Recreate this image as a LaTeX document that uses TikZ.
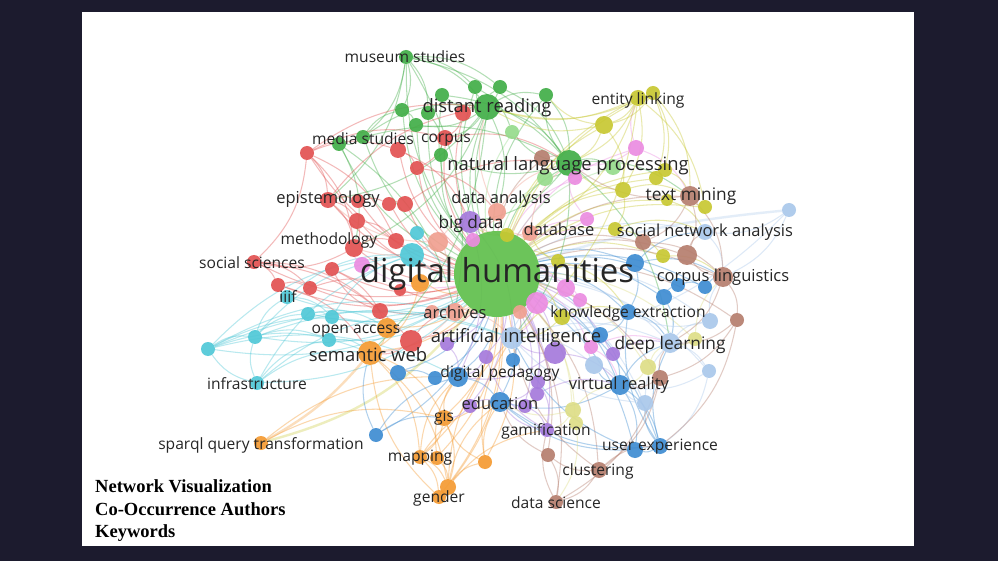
\documentclass[tikz,border=0pt]{standalone}
\usepackage{fontspec}
\setmainfont{Open Sans}
\newfontfamily\capfont{Liberation Serif}

\definecolor{navy}{RGB}{28,27,46}
\definecolor{vHub}{RGB}{96,192,76}
\definecolor{vGreen}{RGB}{66,174,72}
\definecolor{vLGreen}{RGB}{150,220,140}
\definecolor{vRed}{RGB}{226,82,82}
\definecolor{vCyan}{RGB}{80,200,215}
\definecolor{vOrange}{RGB}{245,155,50}
\definecolor{vBlue}{RGB}{62,140,210}
\definecolor{vLBlue}{RGB}{170,200,235}
\definecolor{vPurple}{RGB}{165,122,220}
\definecolor{vPink}{RGB}{235,140,225}
\definecolor{vYellow}{RGB}{200,200,50}
\definecolor{vLYellow}{RGB}{222,222,135}
\definecolor{vBrown}{RGB}{182,126,110}
\definecolor{vSalmon}{RGB}{240,160,145}

\pgfdeclarelayer{panel}
\pgfdeclarelayer{edges}
\pgfdeclarelayer{labels}
\pgfsetlayers{panel,edges,main,labels}

\begin{document}
\begin{tikzpicture}[x=1pt, y=-1pt,
  dot/.style={circle, fill=#1, draw=none, inner sep=0pt, minimum size=14pt, fill opacity=0.92},
  lnk/.style={draw=#1, draw opacity=0.4, line width=1.05pt, bend left=20},
  thk/.style={lnk=#1, line width=2.4pt, draw opacity=0.32},
  lbl/.style={inner sep=0pt, text=black!85},
  lblH/.style={lbl, font=\fontsize{33}{36}\selectfont},
  lblL/.style={lbl, font=\fontsize{18.4}{20}\selectfont},
  lblM/.style={lbl, font=\fontsize{17.3}{19}\selectfont},
  lblS/.style={lbl, font=\fontsize{16.5}{18}\selectfont},
  lblT/.style={lbl, font=\fontsize{15.6}{17}\selectfont},
  legendtxt/.style={inner sep=0pt, align=left, text=black,
                    font=\capfont\bfseries\fontsize{18.5}{22.5}\selectfont}
]
\useasboundingbox (0,0) rectangle (998,561);
\begin{pgfonlayer}{panel}
\fill[navy] (0,0) rectangle (998,561);
\fill[white] (82,12) rectangle (914,546);
\end{pgfonlayer}

% labelled keywords
\node[dot=vHub, minimum size=86pt]    (dh)   at (497,274) {};
\node[dot=vGreen, minimum size=26pt]  (dr)   at (487,107) {};
\node[dot=vGreen, minimum size=26pt]  (nlp)  at (569,163) {};
\node[dot=vGreen]                     (mus)  at (406,57)  {};
\node[dot=vYellow, minimum size=16pt] (el)   at (638,98)  {};
\node[dot=vYellow]                    (el2)  at (653,93)  {};
\node[dot=vGreen]                     (med)  at (363,137) {};
\node[dot=vRed, minimum size=16pt]    (cor)  at (445,138) {};
\node[dot=vRed, minimum size=16pt]    (epi)  at (328,200) {};
\node[dot=vSalmon, minimum size=18pt] (da)   at (497,212) {};
\node[dot=vPurple, minimum size=22pt] (bd)   at (470,222) {};
\node[dot=vSalmon, minimum size=16pt] (db)   at (530,233) {};
\node[dot=vBrown, minimum size=20pt]  (tm)   at (690,196) {};
\node[dot=vLBlue, minimum size=16pt]  (sna)  at (705,232) {};
\node[dot=vRed, minimum size=18pt]    (meth) at (354,248) {};
\node[dot=vRed]                       (ss)   at (254,262) {};
\node[dot=vBrown, minimum size=20pt]  (cl)   at (723,277) {};
\node[dot=vCyan]                      (iiif) at (287,297) {};
\node[dot=vSalmon, minimum size=18pt] (arc)  at (455,312) {};
\node[dot=vBlue, minimum size=16pt]   (ke)   at (628,312) {};
\node[dot=vOrange, minimum size=20pt] (oa)   at (387,328) {};
\node[dot=vLBlue, minimum size=22pt]  (ai)   at (512,338) {};
\node[dot=vOrange, minimum size=24pt] (sw)   at (370,353) {};
\node[dot=vLBlue, minimum size=20pt]  (dl)   at (670,343) {};
\node[dot=vCyan]                      (inf)  at (257,383) {};
\node[dot=vBlue, minimum size=20pt]   (dp)   at (458,377) {};
\node[dot=vBlue, minimum size=20pt]   (vr)   at (620,385) {};
\node[dot=vBlue, minimum size=20pt]   (edu)  at (500,402) {};
\node[dot=vOrange, minimum size=16pt] (gis)  at (444,418) {};
\node[dot=vPurple]                    (gam)  at (547,430) {};
\node[dot=vOrange]                    (spq)  at (261,443) {};
\node[dot=vBlue, minimum size=16pt]   (ux)   at (660,446) {};
\node[dot=vOrange]                    (map)  at (420,457) {};
\node[dot=vBrown, minimum size=16pt]  (clu)  at (599,470) {};
\node[dot=vOrange, minimum size=16pt] (gen)  at (448,487) {};
\node[dot=vBrown]                     (ds)   at (556,502) {};

% unlabelled keywords
\foreach \x/\y/\w [count=\i] in {475/87/14, 500/87/14, 546/95/14, 442/95/14, 402/110/14,
    428/113/14, 416/125/14, 441/155/14, 339/144/14}
  \node[dot=vGreen, minimum size=\w pt] (g\i) at (\x,\y) {};
\foreach \x/\y/\w [count=\i] in {512/132/14, 613/167/16, 545/178/16}
  \node[dot=vLGreen, minimum size=\w pt] (lg\i) at (\x,\y) {};
\foreach \x/\y/\w [count=\i] in {307/153/14, 398/150/16, 417/168/14, 463/113/16, 358/201/14,
    389/204/14, 405/204/16, 357/221/16, 396/241/16, 332/269/14, 278/285/14, 310/288/14,
    380/311/16, 411/341/22, 400/290/12}
  \node[dot=vRed, minimum size=\w pt] (r\i) at (\x,\y) {};
\foreach \x/\y/\w [count=\i] in {412/255/24, 417/233/14, 308/314/14, 332/317/14, 329/340/14,
    255/337/14, 208/349/14}
  \node[dot=vCyan, minimum size=\w pt] (c\i) at (\x,\y) {};
\foreach \x/\y/\w [count=\i] in {420/283/18, 437/458/14, 439/497/14, 485/462/14}
  \node[dot=vOrange, minimum size=\w pt] (o\i) at (\x,\y) {};
\foreach \x/\y/\w [count=\i] in {398/373/16, 435/378/14, 376/435/14, 635/263/18, 664/297/16,
    678/285/14, 705/287/14, 600/335/16, 513/360/14, 635/450/16}
  \node[dot=vBlue, minimum size=\w pt] (b\i) at (\x,\y) {};
\foreach \x/\y/\w [count=\i] in {789/210/14, 710/321/16, 709/371/14, 645/403/16, 594/365/18}
  \node[dot=vLBlue, minimum size=\w pt] (lb\i) at (\x,\y) {};
\foreach \x/\y/\w [count=\i] in {555/353/22, 486/357/14, 538/382/14, 447/344/14, 613/354/14,
    525/406/14, 470/406/14, 537/394/14}
  \node[dot=vPurple, minimum size=\w pt] (p\i) at (\x,\y) {};
\foreach \x/\y/\w [count=\i] in {636/148/16, 575/178/14, 587/219/14, 566/288/18, 580/300/14,
    537/303/22, 591/347/14, 473/240/14, 362/265/16}
  \node[dot=vPink, minimum size=\w pt] (pk\i) at (\x,\y) {};
\foreach \x/\y/\w [count=\i] in {604/125/18, 656/178/14, 665/170/14, 623/190/16, 705/207/14,
    667/200/12, 615/229/14, 663/256/14, 558/261/14, 507/235/14, 562/317/16}
  \node[dot=vYellow, minimum size=\w pt] (y\i) at (\x,\y) {};
\foreach \x/\y/\w [count=\i] in {648/367/16, 695/339/14, 573/410/16, 576/423/14}
  \node[dot=vLYellow, minimum size=\w pt] (ly\i) at (\x,\y) {};
\foreach \x/\y/\w [count=\i] in {643/242/16, 687/255/20, 737/320/14, 660/378/16, 548/455/14,
    542/158/16}
  \node[dot=vBrown, minimum size=\w pt] (br\i) at (\x,\y) {};
\foreach \x/\y/\w [count=\i] in {438/242/20, 520/312/14, 432/312/14}
  \node[dot=vSalmon, minimum size=\w pt] (s\i) at (\x,\y) {};

% co-occurrence links
\begin{pgfonlayer}{edges}
\foreach \n in {dr,nlp,mus,med,g1,g2,g3,g4,g5,g6,g7,g8,g9} \draw[lnk=vGreen] (dh) to (\n);
\foreach \n in {lg1,lg2,lg3} \draw[lnk=vLGreen] (dh) to (\n);
\foreach \n in {cor,epi,meth,ss,r1,r2,r3,r4,r5,r6,r7,r8,r9,r10,r11,r12,r13,r14,r15}
  \draw[lnk=vRed] (dh) to (\n);
\foreach \n in {iiif,inf,c1,c2,c3,c4,c5,c6,c7} \draw[lnk=vCyan] (dh) to (\n);
\foreach \n in {oa,sw,gis,map,gen,o1,o2,o3,o4} \draw[lnk=vOrange] (dh) to (\n);
\foreach \n in {ke,dp,vr,edu,ux,b1,b2,b3,b4,b5,b6,b7,b8,b9,b10} \draw[lnk=vBlue] (dh) to (\n);
\foreach \n in {sna,ai,dl,lb2,lb3,lb4,lb5} \draw[lnk=vLBlue] (dh) to (\n);
\foreach \n in {bd,gam,p1,p2,p3,p4,p5,p6,p7,p8} \draw[lnk=vPurple] (dh) to (\n);
\foreach \n in {pk1,pk2,pk3,pk4,pk5,pk6,pk7,pk8,pk9} \draw[lnk=vPink] (dh) to (\n);
\foreach \n in {el,el2,y1,y2,y3,y4,y5,y6,y7,y8,y9,y10,y11} \draw[lnk=vYellow] (dh) to (\n);
\foreach \n in {ly1,ly2,ly3,ly4} \draw[lnk=vLYellow] (dh) to (\n);
\foreach \n in {tm,cl,clu,ds,br1,br2,br3,br4,br5,br6} \draw[lnk=vBrown] (dh) to (\n);
\foreach \n in {da,db,arc,s1,s2,s3} \draw[lnk=vSalmon] (dh) to (\n);
\draw[thk=vLBlue] (lb1) to[bend right=6] (dh);
\draw[thk=vYellow] (spq) to[bend right=18] (dh);
\draw[thk=vOrange] (spq) to[bend right=10] (sw);

\foreach \a/\b in {mus/dr, mus/g1, mus/g5, mus/nlp, mus/g6, mus/med, mus/g2, dr/nlp, dr/g1,
    dr/g2, dr/g3, dr/g4, dr/g7, dr/cor, dr/da, nlp/g3, nlp/g8, nlp/lg1, nlp/lg2, nlp/lg3,
    nlp/bd, med/g9, med/g5, med/dr, med/nlp, g4/nlp, g5/g7, dr/epi, dr/meth, nlp/ai, nlp/dl,
    nlp/tm, g9/arc, dr/sw, g3/nlp, g6/g8, g9/meth, g1/lg1, mus/arc, mus/epi, g2/nlp}
  \draw[lnk=vGreen] (\a) to (\b);
\foreach \a/\b in {r1/epi, r1/meth, r1/ss, r1/r2, epi/r5, epi/meth, meth/ss, ss/r11, ss/r12,
    r11/r12, meth/r9, r2/r3, cor/r3, r4/cor, r5/r6, r6/r7, r8/r9, r10/oa, r14/sw, r13/r10,
    epi/dr, cor/nlp, r2/bd, ss/r13, r1/dr, r4/dr, r7/nlp, r3/da, r12/r15, r14/arc, r8/meth,
    r11/sw, r1/cor, r1/r9, ss/r14, epi/r8}
  \draw[lnk=vRed] (\a) to (\b);
\foreach \a/\b in {inf/c7, inf/c6, c7/c6, c7/oa, c7/sw, c6/iiif, c6/c3, c6/c5, iiif/c4,
    inf/sw, inf/c5, c3/c4, c4/c1, c5/sw, c7/c1, inf/arc, c6/ai, c7/dp, c3/oa, c6/c1, c5/c4,
    iiif/c1, c7/ai, c7/arc, inf/c1}
  \draw[lnk=vCyan] (\a) to (\b);
\foreach \a/\b in {spq/gis, gis/map, gis/gen, map/gen, map/o3, gen/o4, o2/gen, o4/gis,
    sw/gis, sw/map, sw/gen, oa/sw, gen/edu, o4/edu, map/dp, o1/sw, o3/sw, o2/dp, gen/ai,
    map/edu, o4/ai, gis/dp, spq/dp, gen/gam}
  \draw[lnk=vOrange] (\a) to (\b);
\foreach \a/\b in {vr/ux, vr/b10, ux/b10, ux/lb4, vr/dl, b4/ke, b5/b6, b6/b7, b4/cl, ke/dl,
    b8/vr, dp/edu, b1/b2, b2/dp, b3/gis, b3/dp, b9/ai, vr/edu, ux/edu, b10/edu, vr/lb5, ke/b8,
    b4/sna, b7/cl, b5/dl, b10/ai, b3/sw, ux/dl, ux/ke}
  \draw[lnk=vBlue] (\a) to (\b);
\foreach \a/\b in {lb1/sna, lb1/cl, sna/cl, dl/lb2, dl/lb3, lb2/cl, lb3/ux, lb4/vr, lb4/dl,
    lb5/vr, ai/lb5, ai/dl, lb3/vr, lb1/ai, lb2/ke, lb4/ai}
  \draw[lnk=vLBlue] (\a) to (\b);
\foreach \a/\b in {p1/ai, p1/dp, p2/dp, p3/edu, p3/gam, p4/dp, p5/dl, p6/gam, p7/edu, p8/vr,
    bd/ai, gam/edu, p1/vr, gam/p2, bd/dp, p7/gis}
  \draw[lnk=vPurple] (\a) to (\b);
\foreach \a/\b in {pk1/nlp, pk1/el, pk2/nlp, pk3/db, pk4/pk5, pk6/ai, pk7/dl, pk8/bd,
    pk9/meth, pk1/tm, pk3/nlp, pk7/vr}
  \draw[lnk=vPink] (\a) to (\b);
\foreach \a/\b in {el/y1, el2/y1, el/nlp, el2/tm, el/y4, y1/nlp, y1/y4, y4/tm, y2/y3, y3/tm,
    y5/tm, y7/sna, y8/cl, y9/db, y10/bd, y11/ke, el2/y2, el/dr, y1/dr, el2/y3, y4/y7, y7/y8,
    el/y5, el2/dr, y1/g3, y4/nlp, y6/sna, el/ai, y11/ai, y9/ke, el/db}
  \draw[lnk=vYellow] (\a) to (\b);
\foreach \a/\b in {ly1/dl, ly2/dl, ly3/gam, ly4/ds, ly3/vr, ly1/vr, ly2/cl, ly3/edu}
  \draw[lnk=vLYellow] (\a) to (\b);
\foreach \a/\b in {tm/br1, tm/br2, tm/cl, cl/br2, cl/br3, br3/dl, br3/br4, br4/clu, br4/vr,
    clu/ds, clu/br5, br5/ds, ds/gam, clu/ux, br6/nlp, br1/cl, br2/sna, cl/dl, br4/ds,
    clu/ai, br3/ux, br5/edu, tm/nlp, br4/dl}
  \draw[lnk=vBrown] (\a) to (\b);
\foreach \a/\b in {da/bd, da/dr, db/nlp, s1/meth, s1/bd, arc/sw, arc/ai, s2/ai, s3/arc,
    da/nlp, s1/epi, db/bd}
  \draw[lnk=vSalmon] (\a) to (\b);
\end{pgfonlayer}

% keyword labels
\begin{pgfonlayer}{labels}
\node[lblH] (dhL)   at (497,274) {digital humanities};
\node[lblL] (drL)   at (487,108) {distant reading};
\node[lblL] (nlpL)  at (568,166) {natural language processing};
\node[lblT] (musL)  at (405,57)  {museum studies};
\node[lblT] (elL)   at (638,100) {entity linking};
\node[lblT] (medL)  at (363,139) {media studies};
\node[lblT] (corL)  at (446,140) {corpus};
\node[lblS] (epiL)  at (328,199) {epistemology};
\node[lblS] (daL)   at (501,199) {data analysis};
\node[lblM] (bdL)   at (471,224) {big data};
\node[lblS] (dbL)   at (559,229) {database};
\node[lblM] (tmL)   at (691,196) {text mining};
\node[lblS] (snaL)  at (705,232) {social network analysis};
\node[lblT] (methL) at (329,240) {methodology};
\node[lblT] (ssL)   at (252,263) {social sciences};
\node[lblS] (clL)   at (723,277) {corpus linguistics};
\node[lblT] (iiifL) at (288,297) {iiif};
\node[lblS] (arcL)  at (455,312) {archives};
\node[lblT] (keL)   at (628,313) {knowledge extraction};
\node[lblT] (oaL)   at (356,331) {open access};
\node[lblL] (aiL)   at (516,338) {artificial intelligence};
\node[lblL] (swL)   at (368,355) {semantic web};
\node[lblM] (dlL)   at (670,345) {deep learning};
\node[lblT] (infL)  at (257,384) {infrastructure};
\node[lblT] (dpL)   at (500,373) {digital pedagogy};
\node[lblS] (vrL)   at (619,385) {virtual reality};
\node[lblS] (eduL)  at (500,403) {education};
\node[lblT] (gisL)  at (444,418) {gis};
\node[lblT] (gamL)  at (546,431) {gamification};
\node[lblT] (spqL)  at (261,445) {sparql query transformation};
\node[lblT] (uxL)   at (660,447) {user experience};
\node[lblT] (mapL)  at (420,458) {mapping};
\node[lblT] (cluL)  at (598,471) {clustering};
\node[lblT] (genL)  at (439,498) {gender};
\node[lblT] (dsL)   at (556,503) {data science};
\node[legendtxt, anchor=west] (title) at (95,511)
  {Network Visualization\\Co-Occurrence Authors\\Keywords};
\end{pgfonlayer}
\end{tikzpicture}
\end{document}
